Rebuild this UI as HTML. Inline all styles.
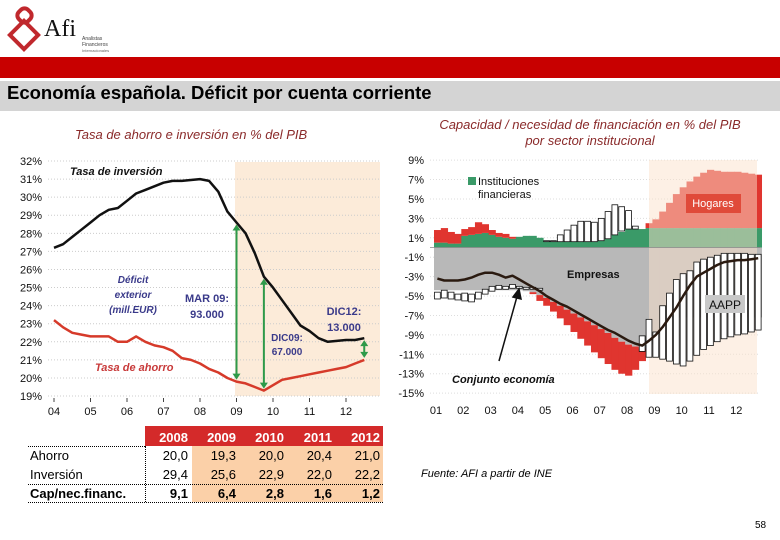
<!DOCTYPE html>
<html><head><meta charset="utf-8">
<style>
body{margin:0;width:780px;height:540px;overflow:hidden;background:#fff;font-family:"Liberation Sans",sans-serif;position:relative}
.abs{position:absolute}
</style></head>
<body>
<div class="abs" style="left:6px;top:6px">
<svg width="130" height="46"><g fill="none" stroke="#c0282d" stroke-width="4"><rect x="12" y="3" width="13" height="13" rx="5" transform="rotate(45 18.5 9.5)"/><rect x="8" y="19" width="20" height="20" transform="rotate(45 18 29)"/></g>
<text x="38" y="30" font-family="Liberation Serif" font-size="24" fill="#111">Afi</text>
<text x="76" y="34" font-size="5" fill="#444">Analistas</text><text x="76" y="40" font-size="5" fill="#444">Financieros</text><text x="76" y="46" font-size="4" fill="#666">Internacionales</text></svg></div>
<div class="abs" style="left:0;top:57px;width:780px;height:21px;background:#c80000"></div>
<div class="abs" style="left:0;top:81px;width:780px;height:30px;background:#d4d4d4"></div>
<div class="abs" style="left:7px;top:82px;font-size:18.5px;font-weight:bold;color:#000">Economía española. Déficit por cuenta corriente</div>
<div class="abs" style="left:75px;top:127px;font-size:13px;font-style:italic;color:#8a2a2a">Tasa de ahorro e inversión en % del PIB</div>
<div class="abs" style="left:430px;top:117px;width:320px;text-align:center;font-size:13px;font-style:italic;color:#8a2a2a;line-height:16px">Capacidad / necesidad de financiación en % del PIB por sector institucional</div>

<svg id="chart" class="abs" style="left:0;top:0" width="780" height="540"></svg>

<div class="abs" style="left:28px;top:426px;width:356px;font-size:13px">
<div style="position:absolute;left:117px;top:0;width:238px;height:20px;background:#d42a2a"></div>
<div style="position:absolute;left:164px;top:20px;width:191px;height:56px;background:#fbd0a8"></div>
<div style="position:absolute;left:0;top:4px;width:355px;color:#fff;font-weight:bold">
<span style="position:absolute;right:195px">2008</span><span style="position:absolute;right:147px">2009</span><span style="position:absolute;right:99px">2010</span><span style="position:absolute;right:51px">2011</span><span style="position:absolute;right:3px">2012</span></div>
<div style="position:absolute;left:0;top:20px;width:117px;border-top:1px dotted #000"></div>
<div style="position:absolute;left:117px;top:20px;height:56px;border-left:1px dotted #000"></div>
<div style="position:absolute;left:0;top:22px;width:355px;height:18px"><span style="position:absolute;left:2px">Ahorro</span><span style="position:absolute;right:195px">20,0</span><span style="position:absolute;right:147px">19,3</span><span style="position:absolute;right:99px">20,0</span><span style="position:absolute;right:51px">20,4</span><span style="position:absolute;right:3px">21,0</span></div>
<div style="position:absolute;left:0;top:41px;width:355px;height:17px;border-bottom:1px dotted #000"><span style="position:absolute;left:2px">Inversión</span><span style="position:absolute;right:195px">29,4</span><span style="position:absolute;right:147px">25,6</span><span style="position:absolute;right:99px">22,9</span><span style="position:absolute;right:51px">22,0</span><span style="position:absolute;right:3px">22,2</span></div>
<div style="position:absolute;left:0;top:60px;width:355px;height:16px;font-weight:bold;border-bottom:1px dotted #000"><span style="position:absolute;left:2px">Cap/nec.financ.</span><span style="position:absolute;right:195px">9,1</span><span style="position:absolute;right:147px">6,4</span><span style="position:absolute;right:99px">2,8</span><span style="position:absolute;right:51px">1,6</span><span style="position:absolute;right:3px">1,2</span></div>
</div>
<div class="abs" style="left:421px;top:468px;font-size:11px;font-style:italic">Fuente: AFI a partir de INE</div>
<div class="abs" style="left:755px;top:520px;font-size:10px">58</div>

<script>
// ---- Left chart data (quarterly, from 2004Q1) ----
const leftTicks = ["32%","31%","30%","29%","28%","27%","26%","25%","24%","23%","22%","21%","20%","19%"];
const leftYears = ["04","05","06","07","08","09","10","11","12"];
const inversion = [27.2,27.4,27.8,28.2,28.6,29.0,29.3,29.4,29.8,30.2,30.4,30.6,30.8,30.9,30.9,30.95,31.0,30.9,30.3,29.2,28.6,28.0,26.9,25.6,25.0,24.3,23.6,22.9,22.6,22.2,22.0,22.05,22.1,22.1,22.2];
const ahorro = [23.2,22.8,22.5,22.4,22.3,22.3,22.3,22.0,22.0,22.3,22.0,21.8,21.7,21.5,21.1,21.0,20.8,20.5,20.3,20.0,19.8,19.7,19.5,19.3,19.6,19.9,20.0,20.1,20.2,20.3,20.4,20.5,20.6,20.8,21.0];
// ---- Right chart data (quarterly, from 2001Q1) ----
const rightTicks = [9,7,5,3,1,-1,-3,-5,-7,-9,-11,-13,-15];
const rightYears = ["01","02","03","04","05","06","07","08","09","10","11","12"];
const financieras = [0.5,0.5,0.4,0.4,1.2,1.3,1.4,1.5,1.3,1.1,1.0,0.9,1.1,1.2,1.2,1.0,0.7,0.6,0.6,0.7,0.7,0.6,0.6,0.6,0.7,0.9,1.3,1.6,1.9,1.9,1.9,2.0,2.0,2.0,2.0,2.0,2.0,2.0,2.0,2.0,2.0,2.0,2.0,2.0,2.0,2.0,2.0,2.0];
const hogares = [1.3,1.5,1.2,1.0,0.7,0.8,1.2,0.9,0.5,0.4,0.4,0.2,0,0,-0.2,-0.6,-0.8,-1.0,-1.3,-1.6,-1.9,-2.2,-2.5,-2.8,-3.0,-3.2,-3.3,-3.3,-3.2,-2.4,-1.3,0.5,0.9,1.7,2.6,3.5,4.2,4.8,5.3,5.7,6.0,5.9,5.8,5.8,5.8,5.7,5.6,5.5];
const empresas = [-4.4,-4.4,-4.4,-4.4,-4.4,-4.4,-4.4,-4.4,-4.4,-4.4,-4.4,-4.4,-4.4,-4.5,-4.6,-4.9,-5.2,-5.6,-6.0,-6.4,-6.8,-7.2,-7.6,-8.0,-8.4,-8.8,-9.3,-9.7,-10.0,-10.2,-10.4,-10.0,-9.0,-8.0,-7.3,-7.2,-7.2,-7.2,-7.2,-7.2,-7.2,-7.2,-7.2,-7.2,-7.2,-7.2,-7.2,-7.2];
const aappHigh = [-4.6,-4.4,-4.6,-4.8,-4.7,-4.8,-4.6,-4.3,-4.0,-3.9,-4.0,-3.8,-4.0,-4.1,-4.1,-4.2,0.7,0.7,1.3,1.8,2.3,2.7,2.7,2.6,3.0,3.7,4.4,4.2,3.8,2.2,-9.1,-7.4,-8.7,-6.0,-4.7,-3.3,-2.7,-2.4,-1.5,-1.2,-1.0,-0.8,-0.6,-0.6,-0.6,-0.6,-0.7,-0.7];
const aappLow = [-5.3,-5.2,-5.3,-5.4,-5.5,-5.6,-5.3,-4.8,-4.5,-4.3,-4.3,-4.2,-4.2,-4.3,-4.3,-4.4,0.6,0.6,0.6,0.6,0.6,0.6,0.6,0.6,0.7,0.9,1.3,1.7,1.9,1.9,-10.7,-11.3,-11.3,-11.5,-11.7,-12.0,-12.2,-11.7,-11.1,-10.5,-10.1,-9.7,-9.4,-9.2,-9.0,-8.9,-8.7,-8.5];
const conjunto = [-3.2,-3.4,-3.4,-3.4,-3.3,-3.1,-2.8,-2.6,-2.6,-2.8,-3.1,-2.9,-3.3,-3.7,-4.1,-4.5,-5.0,-5.4,-5.8,-6.1,-6.5,-6.9,-7.3,-7.7,-8.1,-8.5,-8.8,-9.2,-9.6,-9.9,-10.1,-9.6,-9.0,-8.2,-7.2,-6.2,-5.0,-3.9,-3.0,-2.6,-2.2,-1.8,-1.5,-1.4,-1.3,-1.3,-1.2,-1.1];

const NS="http://www.w3.org/2000/svg";
const svg=document.getElementById('chart');
function mk(tag,attrs,parent,text){const e=document.createElementNS(NS,tag);for(const k in attrs)e.setAttribute(k,attrs[k]);if(text!==undefined)e.textContent=text;(parent||svg).appendChild(e);return e;}

// Left axes
const lx=t=>54+t*36.5;            // t = years since 2004
const ly=v=>161+(32-v)*18.08;
let e;
e=mk('rect',{x:235,y:162,width:145,height:234,fill:'#fcebd9'});


leftTicks.forEach(s=>{const v=parseFloat(s);const y=ly(v);
 mk('line',{x1:48,x2:380,y1:y,y2:y,stroke:'#ccc','stroke-dasharray':'1,2'});
 e=mk('text',{x:42,y:y+4,'font-size':11,'text-anchor':'end',fill:'#111'},svg,s);
 
 });
leftYears.forEach((s,i)=>{const x=lx(i);
 mk('line',{x1:x,x2:x,y1:398,y2:402,stroke:'#444'});
 e=mk('text',{x:x,y:415,'font-size':11,'text-anchor':'middle',fill:'#111'},svg,s);
 
 });
function line(arr,fx,fy,col,w,name){const p=arr.map((v,i)=>fx(i/4).toFixed(1)+','+fy(v).toFixed(1)).join(' ');
 const el=mk('polyline',{points:p,fill:'none',stroke:col,'stroke-width':w,'stroke-linejoin':'round'});
 
 }
line(inversion,lx,ly,'#111',2.5,'inversion-line');
line(ahorro,lx,ly,'#d63a2a',2.5,'ahorro-line');
// arrows between lines
function arrow(i,name){const x=lx(i/4),y1=ly(inversion[i])+2,y2=ly(ahorro[i])-2;
 const g=mk('g',{});
 mk('line',{x1:x,x2:x,y1:y1+4,y2:y2-4,stroke:'#2e9a4a','stroke-width':2},g);
 mk('path',{d:`M${x-4},${y1+6}L${x},${y1}L${x+4},${y1+6}Z M${x-4},${y2-6}L${x},${y2}L${x+4},${y2-6}Z`,fill:'#2e9a4a'},g);}
arrow(20,'arrow-mar09');arrow(23,'arrow-dic09');arrow(34,'arrow-dic12');
const ltxt=[["Tasa de inversión",70,175,'#111','bold italic',11],["Tasa de ahorro",95,371,'#c83a3a','bold italic',11],
["Déficit",133,283,'#3a3a8a','bold italic',10],["exterior",133,298,'#3a3a8a','bold italic',10],["(mill.EUR)",133,313,'#3a3a8a','bold italic',10],
["MAR 09:",207,302,'#3a3a8a','bold',11],["93.000",207,318,'#3a3a8a','bold',11],
["DIC09:",287,341,'#3a3a8a','bold',10],["67.000",287,355,'#3a3a8a','bold',10],
["DIC12:",344,315,'#3a3a8a','bold',11],["13.000",344,331,'#3a3a8a','bold',11]];
ltxt.forEach(([t,x,y,c,st,fs])=>{const anch=(t.startsWith('Tasa'))?'start':'middle';
 e=mk('text',{x:x,y:y,fill:c,'font-size':fs,'font-weight':'bold','font-style':st.includes('italic')?'italic':'normal','text-anchor':anch},svg,t);
 
 });

// Right chart
const rx=t=>434+t*27.3;            // t = years since 2001
const ry=v=>247.5-v*9.71;
const qw=27.3/4;
rightTicks.forEach(v=>{const y=ry(v);
 mk('line',{x1:430,x2:760,y1:y,y2:y,stroke:'#ddd','stroke-dasharray':'1,2'});
 e=mk('text',{x:424,y:y+4,'font-size':11,'text-anchor':'end',fill:'#111'},svg,v+'%');
 
 });
rightYears.forEach((s,i)=>{e=mk('text',{x:rx(i)+2,y:414,'font-size':11,'text-anchor':'middle',fill:'#111'},svg,s);
 
 });
function rect(x,v1,v2,fill,name,stroke){const y1=ry(Math.max(v1,v2)),y2=ry(Math.min(v1,v2));
 const r=mk('rect',{x:x.toFixed(2),y:y1.toFixed(2),width:(qw+0.4).toFixed(2),height:Math.max(0,y2-y1).toFixed(2),fill:fill});
 if(stroke){r.setAttribute('stroke',stroke);r.setAttribute('stroke-width','0.8');r.setAttribute('width',(qw-1).toFixed(2));}
 
 }
financieras.forEach((v,i)=>{const x=rx(i/4);
 rect(x,0,v,'#3a9a68','financieras-bar');
 if(hogares[i]>0) rect(x,v,v+hogares[i],'#e0352f','hogares-bar');
 rect(x,0,empresas[i],'#b8b8b8','empresas-bar');
 if(hogares[i]<0) rect(x,empresas[i],empresas[i]+hogares[i],'#e0352f','hogares-bar');});
e=mk('rect',{x:649,y:160,width:108,height:234,fill:'#fbe2cc','fill-opacity':0.5});


aappHigh.forEach((v,i)=>rect(rx(i/4)+0.5,v,aappLow[i],'#fff','aapp-bar','#111'));
mk('line',{x1:430,x2:760,y1:ry(0),y2:ry(0),stroke:'#888','stroke-width':0.7});
line(conjunto,t=>rx(t)+qw/2,ry,'#2a1a10',2.5,'conjunto-line');
e=mk('rect',{x:468,y:177,width:8,height:8,fill:'#3a9a68'});


const rtxt=[["Instituciones",478,185,'#111','normal',11],["financieras",478,198,'#111','normal',11],["Empresas",567,278,'#111','bold',11],["Conjunto economía",452,383,'#111','bold',11]];
e=mk('rect',{x:686,y:194,width:55,height:19,fill:'#e04a3a'});


e=mk('rect',{x:705,y:295,width:40,height:18,fill:'#c8c8c8'});


rtxt.push(["Hogares",713,207,'#fff','normal',11],["AAPP",725,309,'#111','normal',12]);
rtxt.forEach(([t,x,y,c,w,fs])=>{const anch=(t==='Hogares'||t==='AAPP')?'middle':'start';
 e=mk('text',{x:x,y:y,fill:c,'font-size':fs,'font-weight':w,'font-style':t.startsWith('Conjunto')?'italic':'normal','text-anchor':anch},svg,t);
 
 });
e=mk('path',{d:'M499,361 L518,293 M513,297 L519,289 L521,299 Z',stroke:'#111','stroke-width':1.5,fill:'#111'});


</script>
</body></html>
